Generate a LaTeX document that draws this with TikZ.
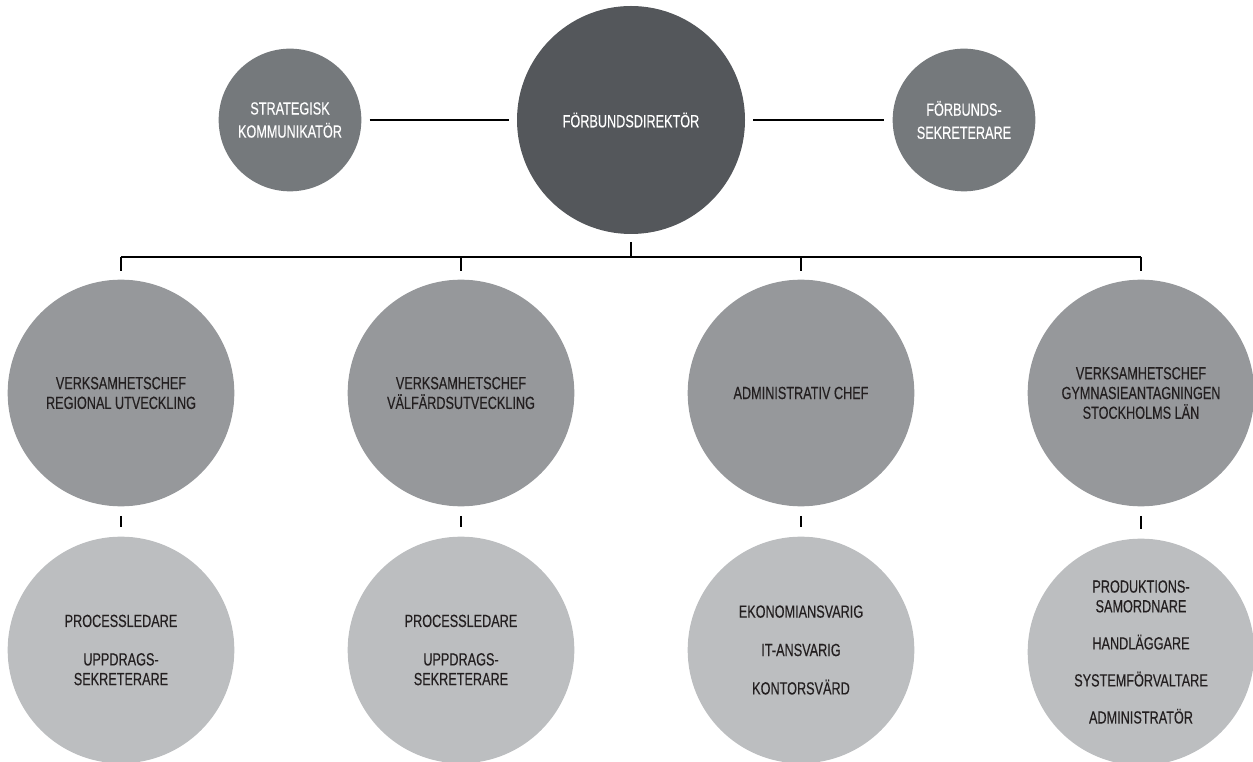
\documentclass[tikz,border=0pt]{standalone}
\usepackage{fontspec}
\setmainfont[FakeStretch=0.72,FakeBold=0.3]{Liberation Sans}
\definecolor{dirgray}{HTML}{54575B}
\definecolor{staffgray}{HTML}{75797C}
\definecolor{chefgray}{HTML}{96989B}
\definecolor{teamgray}{HTML}{BCBEC0}
\definecolor{inkgray}{HTML}{231F20}
\tikzset{
  orgtext/.style={align=center, inner sep=0pt, font=\fontsize{13.2}{14.8}\selectfont},
  dircirc/.style={circle, orgtext, fill=dirgray, text=white, minimum size=171pt},
  staffcirc/.style={circle, orgtext, fill=staffgray, text=white, minimum size=107pt},
  chefcirc/.style={circle, orgtext, fill=chefgray, text=inkgray, minimum size=170pt},
  teamcirc/.style={circle, orgtext, fill=teamgray, text=inkgray, minimum size=170pt},
  orgline/.style={line width=1pt, black}
}
\begin{document}
\begin{tikzpicture}[x=0.75pt,y=0.75pt,yscale=-1,xscale=1]
    \useasboundingbox (0,0) rectangle (1253,762);
    % Top row
    \node [dircirc] (dir) at (631,120) {FÖRBUNDSDIREKTÖR};
    \node [staffcirc] (strat) at (290,120) {STRATEGISK\\[2.5pt]KOMMUNIKATÖR};
    \node [staffcirc] (sekr) at (964,120) {FÖRBUNDS-\\[2.5pt]SEKRETERARE};
    % Chefs
    \node [chefcirc] (vreg) at (121,393) {VERKSAMHETSCHEF\\REGIONAL UTVECKLING};
    \node [chefcirc] (vvalf) at (461,393) {VERKSAMHETSCHEF\\VÄLFÄRDSUTVECKLING};
    \node [chefcirc] (adm) at (801,393) {ADMINISTRATIV CHEF};
    \node [chefcirc] (vgym) at (1141,393) {VERKSAMHETSCHEF\\GYMNASIEANTAGNINGEN\\STOCKHOLMS LÄN};
    % Teams
    \node [teamcirc] (preg) at (121,650) {PROCESSLEDARE\\[14pt]UPPDRAGS-\\SEKRETERARE};
    \node [teamcirc] (pvalf) at (461,650) {PROCESSLEDARE\\[14pt]UPPDRAGS-\\SEKRETERARE};
    \node [teamcirc] (padm) at (801,650) {EKONOMIANSVARIG\\[14pt]IT-ANSVARIG\\[14pt]KONTORSVÄRD};
    \node [teamcirc] (pgym) at (1141,652) {PRODUKTIONS-\\SAMORDNARE\\[13pt]HANDLÄGGARE\\[13pt]SYSTEMFÖRVALTARE\\[13pt]ADMINISTRATÖR};

    % Lines
    \coordinate (bus) at (631,257);
    \draw [orgline, shorten <=6pt, shorten >=6pt] (strat) -- (dir);
    \draw [orgline, shorten <=6pt, shorten >=6pt] (dir) -- (sekr);
    \draw [orgline, shorten <=6pt] (dir.south) -- (dir.south |- bus);
    \draw [orgline] (vreg.north |- bus) -- (vgym.north |- bus);
    \foreach \c in {vreg,vvalf,adm,vgym}
      \draw [orgline, shorten >=6pt] (\c.north |- bus) -- (\c.north);
    \draw [orgline, shorten <=7pt, shorten >=7pt] (vreg) -- (preg);
    \draw [orgline, shorten <=7pt, shorten >=7pt] (vvalf) -- (pvalf);
    \draw [orgline, shorten <=7pt, shorten >=7pt] (adm) -- (padm);
    \draw [orgline, shorten <=7pt, shorten >=7pt] (vgym) -- (pgym);
\end{tikzpicture}
\end{document}
